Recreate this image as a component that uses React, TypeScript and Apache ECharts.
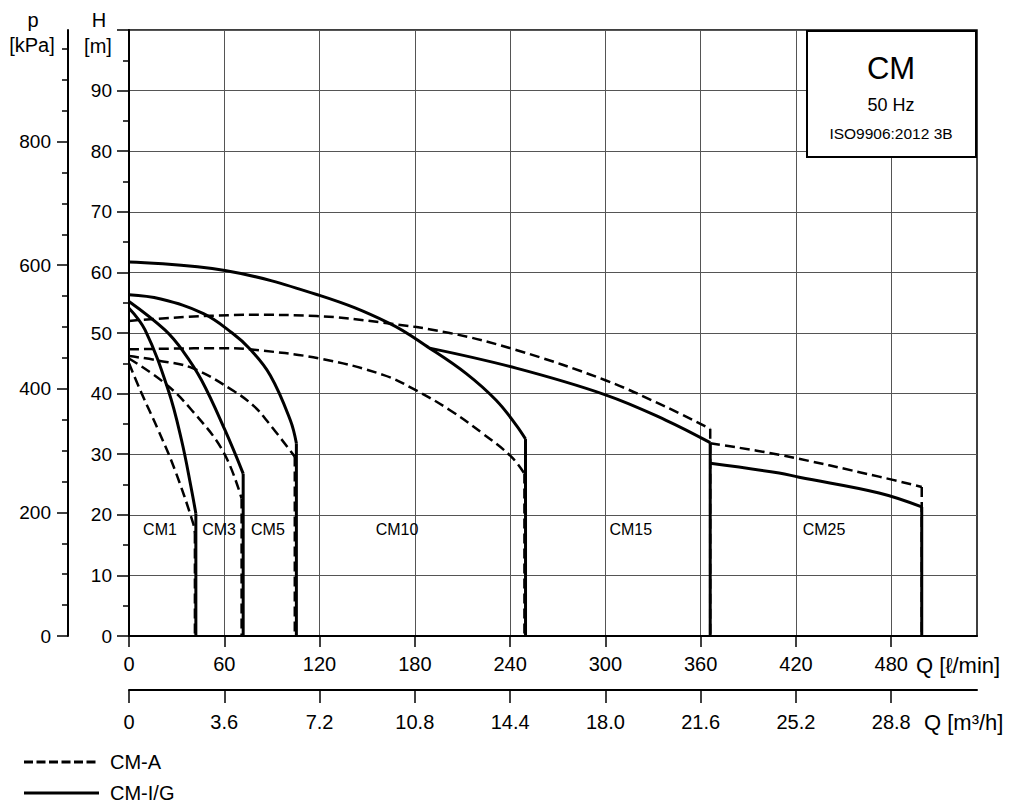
import React, { useEffect, useRef } from 'react';
import * as echarts from 'echarts';

const FONT = "'Liberation Sans', Arial, Helvetica, sans-serif";

// Axis ticks
const qTicks = [0, 60, 120, 180, 240, 300, 360, 420, 480];
const m3hTicks = [0, 3.6, 7.2, 10.8, 14.4, 18.0, 21.6, 25.2, 28.8];
const pTicks = [0, 200, 400, 600, 800];
const Q_MAX = 534;
const H_MAX = 100;
const KPA_PER_M = 9.80665;
const M3H_PER_LMIN = 0.06;

// Curves: [Q l/min, H m]
const cm1IG: number[][] = [[0, 54.1], [10.1, 50.5], [24.7, 40.6], [33.1, 32.3], [39.4, 24.1], [42.1, 20.2]];
const cm1A: number[][] = [[0, 45], [8, 40], [18.4, 34], [28.9, 27.4], [40.4, 18.6], [41.5, 16.9]];
const cm3IG: number[][] = [[0, 55.2], [22.6, 50.5], [34.3, 46.9], [45.7, 42.2], [60.4, 34], [71.9, 26.8]];
const cm3A: number[][] = [[0, 45.8], [22.6, 41.7], [39.4, 37.3], [59.4, 30.4], [70.9, 22.7]];
const cm5IG: number[][] = [[0, 56.3], [20, 55.6], [46.9, 53.2], [65, 50], [76, 47.4], [89, 43], [101.6, 35.6], [105.4, 31.8]];
const cm5A: number[][] = [[0, 46.2], [17.4, 45.5], [40, 44.2], [66.7, 40.3], [79.2, 37.8], [86.6, 35.6], [104.4, 29.6]];
const cm10IG: number[][] = [[0, 61.7], [60.4, 60.3], [120, 56.2], [164, 51.6], [189.3, 47.5], [212.4, 43.3], [231.2, 38.9], [243.8, 34.8], [249.7, 32.5]];
const cm10A: number[][] = [[0, 47.3], [60.4, 47.5], [76.1, 47.3], [120, 45.8], [160, 43.1], [180.3, 40.6], [201.9, 37.3], [222.8, 33.4], [240.7, 29.6], [249, 26.8]];
const cm15IG: number[][] = [[189.3, 47.5], [243.8, 44.2], [300, 39.8], [338.2, 35.6], [366, 31.9]];
const cm15A: number[][] = [[0, 52], [76.1, 53], [118, 52.8], [160, 51.7], [201.9, 50], [243.8, 47.2], [300, 42.2], [338.2, 37.8], [366, 34.2]];
const cm25IG: number[][] = [[366, 28.5], [409.4, 26.9], [422, 26.2], [472.3, 23.6], [499.2, 21.3]];
const cm25A: number[][] = [[366, 31.8], [409.4, 29.9], [472.3, 26.3], [499.2, 24.6]];

// Model labels
const labelNames = ['CM1', 'CM3', 'CM5', 'CM10', 'CM15', 'CM25'];
const labelQ = [19.5, 56.7, 87.5, 168.8, 316, 437.7];
const labelH = [17.6, 17.6, 17.6, 17.6, 17.6, 17.6];

const legendNames = ['CM-A', 'CM-I/G'];

const solidCurves = [cm1IG, cm3IG, cm5IG, cm10IG, cm15IG, cm25IG];
const dashedCurves = [cm1A, cm3A, cm5A, cm10A, cm15A, cm25A];

function curveSeries(data: number[][], dashed: boolean): any {
  return {
    type: 'line',
    data,
    smooth: 0.4,
    symbol: 'none',
    silent: true,
    xAxisIndex: 0,
    yAxisIndex: 0,
    z: dashed ? 3 : 4,
    lineStyle: { color: '#000', width: dashed ? 2.5 : 3, type: dashed ? [10, 5] : 'solid', cap: 'butt' },
  };
}

function dropSeries(data: number[][], dashed: boolean): any {
  const last = data[data.length - 1];
  return { ...curveSeries([last, [last[0], 0]], dashed), smooth: false };
}

function txt(text: string, x: number, y: number, size: number, align = 'center'): any {
  return {
    type: 'text',
    x,
    y,
    z: 110,
    style: {
      text,
      fill: '#000',
      fontSize: size,
      fontFamily: FONT,
      textAlign: align,
      textVerticalAlign: 'middle',
      align,
      verticalAlign: 'middle',
    },
  };
}

export default function App() {
  const ref = useRef<HTMLDivElement>(null);
  useEffect(() => {
    if (!ref.current) return;
    const chart = echarts.init(ref.current, null, { renderer: 'svg' });
    const series: any[] = [];
    solidCurves.forEach((c) => {
      series.push(curveSeries(c, false));
      series.push(dropSeries(c, false));
    });
    dashedCurves.forEach((c) => {
      series.push(curveSeries(c, true));
      series.push(dropSeries(c, true));
    });

    const axisLineStyle = { color: '#000', width: 2 };
    const tickStyle = { color: '#000', width: 1.5 };
    const labelStyle = { color: '#000', fontFamily: FONT };

    const staticGraphics: any[] = [
      { type: 'rect', z: 100, shape: { x: 807, y: 31, width: 169, height: 126 }, style: { fill: '#fff', stroke: '#000', lineWidth: 2 } },
      txt('CM', 891, 68, 31),
      txt('50 Hz', 891, 105, 18),
      txt('ISO9906:2012 3B', 891, 133, 15.5),
      txt('p', 33, 20, 20),
      txt('[kPa]', 32, 45, 20),
      txt('H', 99, 20, 20),
      txt('[m]', 98, 46, 20),
      txt('Q [ℓ/min]', 916, 665, 22, 'left'),
      txt('Q [m³/h]', 924, 722, 22, 'left'),
      { type: 'line', z: 110, shape: { x1: 24, y1: 762, x2: 99, y2: 762 }, style: { stroke: '#000', lineWidth: 3, lineDash: [9, 3.5] } },
      txt(legendNames[0], 110, 762, 20, 'left'),
      { type: 'line', z: 110, shape: { x1: 24, y1: 793, x2: 99, y2: 793 }, style: { stroke: '#000', lineWidth: 3 } },
      txt(legendNames[1], 110, 793, 20, 'left'),
    ];

    chart.setOption({
      animation: false,
      backgroundColor: '#fff',
      grid: {
        left: 129,
        right: 37,
        top: 30,
        bottom: 170,
        containLabel: false,
        show: true,
        borderColor: '#000',
        borderWidth: 1.5,
        backgroundColor: 'transparent',
      },
      xAxis: [
        {
          type: 'value',
          min: 0,
          max: Q_MAX,
          interval: 60,
          position: 'bottom',
          axisLine: { show: true, onZero: false, lineStyle: axisLineStyle },
          axisTick: { show: true, length: 11, lineStyle: tickStyle, customValues: qTicks },
          axisLabel: {
            ...labelStyle,
            fontSize: 20,
            margin: 18,
            customValues: qTicks,
            formatter: (v: number) => (qTicks.indexOf(v) >= 0 ? String(v) : ''),
          },
          splitLine: { show: true, lineStyle: { color: '#555', width: 1 } },
        },
        {
          type: 'value',
          min: 0,
          max: Q_MAX * M3H_PER_LMIN,
          interval: 3.6,
          position: 'bottom',
          offset: 54,
          axisLine: { show: true, onZero: false, lineStyle: axisLineStyle },
          axisTick: { show: true, length: 13, lineStyle: tickStyle, customValues: m3hTicks },
          axisLabel: {
            ...labelStyle,
            fontSize: 20,
            margin: 22,
            customValues: m3hTicks,
            formatter: (v: number) => (v === 0 ? '0' : v.toFixed(1)),
          },
          splitLine: { show: false },
        },
      ],
      yAxis: [
        {
          type: 'value',
          min: 0,
          max: H_MAX,
          interval: 10,
          position: 'left',
          axisLine: { show: true, onZero: false, lineStyle: axisLineStyle },
          axisTick: { show: true, length: 12, lineStyle: tickStyle },
          minorTick: { show: true, splitNumber: 2, length: 6, lineStyle: tickStyle },
          axisLabel: {
            ...labelStyle,
            fontSize: 19,
            margin: 17,
            formatter: (v: number) => (v >= H_MAX ? '' : String(v)),
          },
          splitLine: { show: true, lineStyle: { color: '#555', width: 1 } },
        },
        {
          type: 'value',
          min: 0,
          max: H_MAX * KPA_PER_M,
          interval: 200,
          position: 'left',
          offset: 61,
          axisLine: { show: true, onZero: false, lineStyle: axisLineStyle },
          axisTick: { show: true, length: 11, lineStyle: tickStyle, customValues: pTicks },
          minorTick: { show: true, splitNumber: 4, length: 6, lineStyle: tickStyle },
          axisLabel: {
            ...labelStyle,
            fontSize: 19,
            margin: 17,
            customValues: pTicks,
            formatter: (v: number) => (pTicks.indexOf(v) >= 0 ? String(v) : ''),
          },
          splitLine: { show: false },
        },
      ],
      series,
      graphic: staticGraphics,
    });

    // Model labels positioned through the chart's own scales
    const labelGraphics = labelNames.map((name, i) => {
      const pt = chart.convertToPixel({ gridIndex: 0 } as any, [labelQ[i], labelH[i]]) as number[];
      return txt(name, pt[0], pt[1], 16);
    });
    chart.setOption({ graphic: [...staticGraphics, ...labelGraphics] });

    return () => chart.dispose();
  }, []);
  return <div ref={ref} style={{ position: 'absolute', left: 0, top: 0, width: 1014, height: 806 }} />;
}
